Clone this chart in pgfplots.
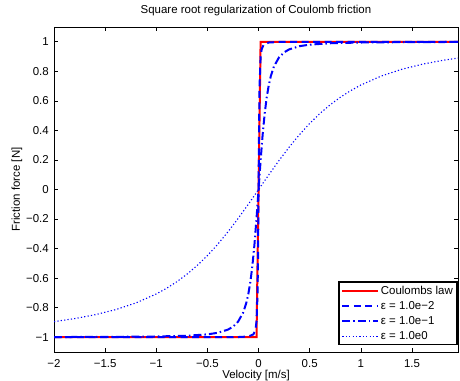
\documentclass[border=0pt]{standalone}
\usepackage{fontspec}
\setmainfont{Liberation Sans}
\usepackage{pgfplots}
\pgfplotsset{compat=1.18}
\begin{document}
\begin{tikzpicture}[x=1bp,y=1bp]
\useasboundingbox (-54bp,-29bp) rectangle (406bp,352bp);
\begin{axis}[
  at={(0bp,0bp)}, anchor=south west,
  scale only axis,
  width=404bp, height=325bp,
  xmin=-2, xmax=1.95, ymin=-1.1, ymax=1.1,
  axis line style={black, line width=0.8bp},
  tick align=inside,
  tick pos=both,
  major tick length=4bp,
  tick style={black, line width=0.6bp},
  xtick={-2,-1.5,-1,-0.5,0,0.5,1,1.5},
  xticklabels={−2,−1.5,−1,−0.5,0,0.5,1,1.5},
  ytick={-1,-0.8,-0.6,-0.4,-0.2,0,0.2,0.4,0.6,0.8,1},
  yticklabels={−1,−0.8,−0.6,−0.4,−0.2,0,0.2,0.4,0.6,0.8,1},
  tick label style={font=\fontsize{11.5}{12}\selectfont},
  xticklabel style={anchor=base, inner sep=0pt, yshift=-15bp},
  yticklabel style={anchor=east, inner sep=0pt, xshift=-5bp},
  xlabel={Velocity [m/s]},
  ylabel={Friction force [N]},
  label style={font=\fontsize{11.5}{12}\selectfont},
  xlabel style={at={(axis description cs:0.5,0)}, anchor=base, inner sep=0pt, yshift=-26.3bp},
  ylabel style={at={(axis description cs:-0.0842,0.5)}, anchor=base, inner sep=0pt},
  title={Square root regularization of Coulomb friction},
  title style={font=\fontsize{11.5}{12}\selectfont, at={(axis description cs:0.5,1)}, anchor=base, inner sep=0pt, yshift=8bp},
  legend cell align=left,
  legend style={at={(axis description cs:1,0)}, anchor=south east, xshift=-0.5bp, yshift=6.5bp,
    draw=black, line width=1.3bp,
    font=\fontsize{11.5}{12}\selectfont, inner sep=2.5bp, row sep=2.5bp,
    nodes={inner sep=1.5bp}},
  legend image code/.code={\draw[#1] (0bp,0bp) -- (36bp,0bp);},
]
\addplot[red, line width=2bp] coordinates {(-2,-1) (-0.02,-1) (0.02,1) (1.95,1)};
\addlegendentry{Coulombs law}
\addplot[blue, line width=2bp, dash pattern=on 7bp off 4.5bp] coordinates {
(-2,-1.0000) (-1,-0.99995) (-0.5,-0.9998) (-0.2,-0.9988) (-0.1,-0.9950) (-0.05,-0.9806) (-0.03,-0.9487) (-0.02,-0.8944) (-0.01,-0.7071) (-0.005,-0.4472) (0,0)
(0.005,0.4472) (0.01,0.7071) (0.02,0.8944) (0.03,0.9487) (0.05,0.9806) (0.1,0.9950) (0.2,0.9988) (0.5,0.9998) (1,0.99995) (1.95,1.0000)};
\addlegendentry{ε = 1.0e−2}
\addplot[blue, line width=2bp, dash pattern=on 8bp off 3bp on 1.5bp off 3bp] coordinates {
(-2,-0.9988) (-1.5,-0.9978) (-1.0,-0.9950) (-0.7,-0.9899) (-0.5,-0.9806) (-0.4,-0.9701) (-0.3,-0.9487) (-0.25,-0.9285) (-0.2,-0.8944) (-0.15,-0.8321) (-0.12,-0.7682) (-0.1,-0.7071) (-0.08,-0.6247) (-0.06,-0.5145) (-0.04,-0.3714) (-0.02,-0.1961) (0,0)
(0.02,0.1961) (0.04,0.3714) (0.06,0.5145) (0.08,0.6247) (0.1,0.7071) (0.12,0.7682) (0.15,0.8321) (0.2,0.8944) (0.25,0.9285) (0.3,0.9487) (0.4,0.9701) (0.5,0.9806) (0.7,0.9899) (1.0,0.9950) (1.5,0.9978) (1.95,0.9987)};
\addlegendentry{ε = 1.0e−1}
\addplot[blue, line width=1.1bp, dash pattern=on 1.2bp off 2.2bp] coordinates {
(-2,-0.8944) (-1.8,-0.8742) (-1.6,-0.8480) (-1.4,-0.8137) (-1.2,-0.7682) (-1.0,-0.7071) (-0.9,-0.6690) (-0.8,-0.6247) (-0.7,-0.5735) (-0.6,-0.5145) (-0.5,-0.4472) (-0.4,-0.3714) (-0.3,-0.2873) (-0.2,-0.1961) (-0.1,-0.0995) (0,0)
(0.1,0.0995) (0.2,0.1961) (0.3,0.2873) (0.4,0.3714) (0.5,0.4472) (0.6,0.5145) (0.7,0.5735) (0.8,0.6247) (0.9,0.6690) (1.0,0.7071) (1.2,0.7682) (1.4,0.8137) (1.6,0.8480) (1.8,0.8742) (1.95,0.8898)};
\addlegendentry{ε = 1.0e0}
\end{axis}
\end{tikzpicture}
\end{document}
